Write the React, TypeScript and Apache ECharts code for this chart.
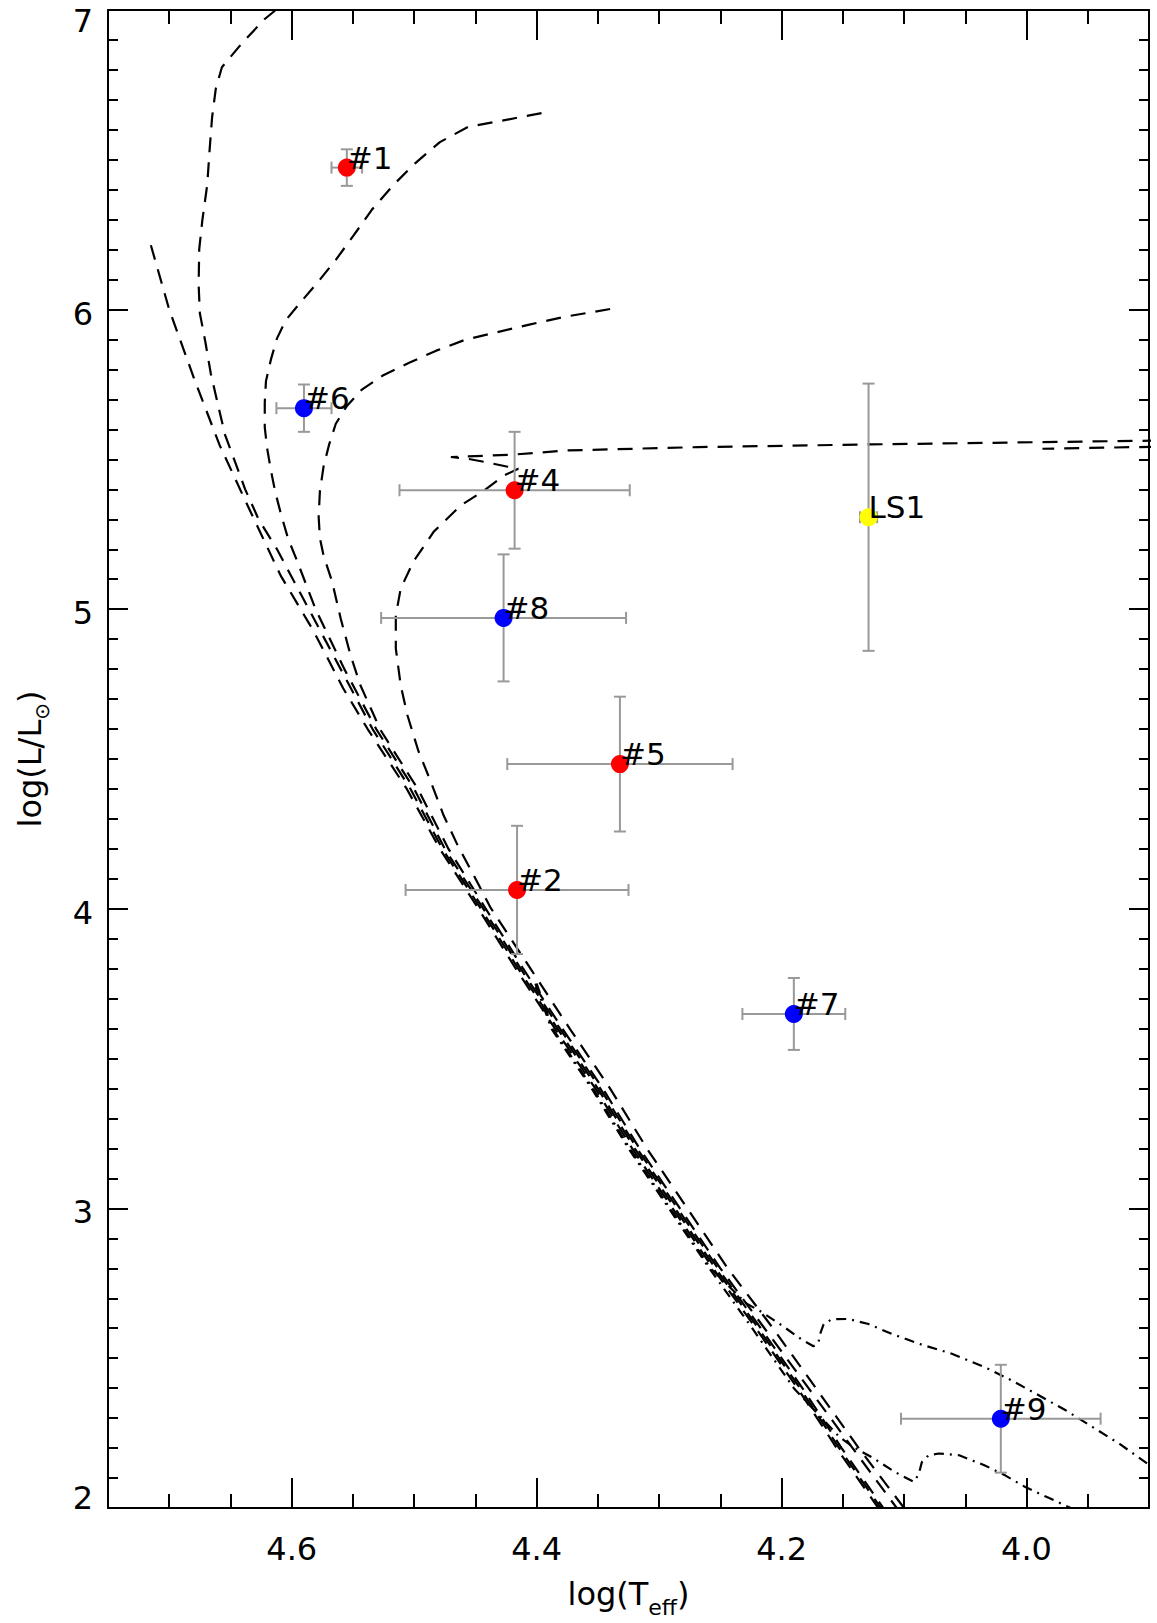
import React, { useEffect, useRef } from "react";
import * as echarts from "echarts";

const FONT = "'DejaVu Sans', sans-serif";

// Axis ranges and ticks
const X_MIN = 3.9;
const X_MAX = 4.75;
const Y_MIN = 2;
const Y_MAX = 7;
const xMajorTicks = [4.0, 4.2, 4.4, 4.6];

// Stars: log(Teff), log(L/Lsun), errors, colours
const starNames = ["#1", "#6", "#4", "#8", "#5", "#2", "#7", "LS1", "#9"];
const starLogT = [4.555, 4.59, 4.418, 4.427, 4.332, 4.416, 4.19, 4.129, 4.021];
const starLogL = [6.474, 5.671, 5.397, 4.971, 4.483, 4.063, 3.649, 5.307, 2.298];
const starErrT = [0.0125, 0.0225, 0.094, 0.1, 0.092, 0.091, 0.042, 0.007, 0.0815];
const starErrL = [0.061, 0.079, 0.195, 0.212, 0.225, 0.214, 0.12, 0.446, 0.18];
const starColors = ["#ff0000", "#0000ff", "#ff0000", "#0000ff", "#ff0000", "#ff0000", "#0000ff", "#ffff00", "#0000ff"];

// ZAMS
const zams = [
  [4.715, 6.215], [4.7, 6.0], [4.679, 5.762], [4.659, 5.549], [4.636, 5.346], [4.609, 5.112],
  [4.582, 4.926], [4.558, 4.736], [4.538, 4.6], [4.506, 4.4], [4.479, 4.2], [4.4475, 4.0],
  [4.417, 3.8], [4.385, 3.6], [4.352, 3.4], [4.322, 3.2], [4.289, 3.0], [4.256, 2.8],
  [4.221, 2.6], [4.187, 2.4], [4.155, 2.2], [4.121, 2.0],
];

// Isochrones
const iso1Myr = [
  [4.613, 7.0], [4.622, 6.97], [4.64, 6.892], [4.657, 6.809], [4.662, 6.737], [4.665, 6.642],
  [4.667, 6.535], [4.669, 6.416], [4.673, 6.297], [4.6755, 6.202], [4.676, 6.083], [4.675, 5.988],
  [4.6705, 5.892], [4.666, 5.785], [4.66, 5.679], [4.6545, 5.583], [4.647, 5.5], [4.638, 5.4],
  [4.627, 5.3], [4.612, 5.2], [4.586, 5.0], [4.56, 4.8], [4.534, 4.6], [4.503, 4.4], [4.477, 4.2],
  [4.4455, 4.0], [4.415, 3.8], [4.383, 3.6], [4.35, 3.4], [4.32, 3.2], [4.287, 3.0], [4.254, 2.8],
  [4.219, 2.6], [4.185, 2.4], [4.153, 2.2], [4.119, 2.0],
];

const iso2Myr = [
  [4.396, 6.656], [4.429, 6.63], [4.456, 6.61], [4.479, 6.559], [4.4995, 6.4875], [4.517, 6.416],
  [4.5346, 6.333], [4.549, 6.25], [4.564, 6.166], [4.578, 6.095], [4.593, 6.023], [4.605, 5.964],
  [4.612, 5.904], [4.617, 5.833], [4.621, 5.762], [4.622, 5.69], [4.622, 5.607], [4.62, 5.5355],
  [4.617, 5.464], [4.6135, 5.3925], [4.609, 5.321], [4.603, 5.236], [4.5955, 5.16], [4.5805, 5.0],
  [4.557, 4.8], [4.531, 4.6], [4.5, 4.4], [4.475, 4.2], [4.4435, 4.0], [4.413, 3.8], [4.381, 3.6],
  [4.348, 3.4], [4.318, 3.2], [4.285, 3.0], [4.252, 2.8], [4.217, 2.6], [4.183, 2.4], [4.151, 2.2],
  [4.117, 2.0],
];

const iso3Myr = [
  [4.34, 6.002], [4.377, 5.976], [4.406, 5.95], [4.435, 5.922], [4.4586, 5.899], [4.482, 5.863],
  [4.505, 5.821], [4.526, 5.779], [4.543, 5.732], [4.555, 5.678], [4.564, 5.619], [4.5696, 5.5475],
  [4.574, 5.476], [4.577, 5.3925], [4.578, 5.309], [4.577, 5.238], [4.574, 5.179], [4.567, 5.092],
  [4.56, 4.969], [4.552, 4.847], [4.544, 4.747], [4.533, 4.647], [4.528, 4.6], [4.497, 4.4],
  [4.472, 4.2], [4.4415, 4.0], [4.411, 3.8], [4.379, 3.6], [4.346, 3.4], [4.316, 3.2], [4.283, 3.0],
  [4.25, 2.8], [4.214, 2.6], [4.178, 2.4], [4.142, 2.2], [4.106, 2.0],
];

const iso5Myr = [
  [4.1, 2.0], [4.137, 2.2], [4.172, 2.4], [4.207, 2.6], [4.244, 2.8], [4.277, 3.0], [4.31, 3.2],
  [4.34, 3.4], [4.373, 3.6], [4.405, 3.8], [4.4375, 4.003], [4.4514, 4.112], [4.4645, 4.212],
  [4.476, 4.312], [4.4866, 4.426], [4.4965, 4.526], [4.5055, 4.646], [4.511, 4.746], [4.515, 4.869],
  [4.515, 4.979], [4.511, 5.069], [4.5006, 5.159], [4.484, 5.259], [4.462, 5.346], [4.443, 5.396],
  [4.427, 5.4455], [4.415, 5.469], [4.4236, 5.4755], [4.443, 5.492], [4.456, 5.502], [4.47, 5.508],
  [4.421, 5.5155], [4.3745, 5.53], [4.268, 5.541], [4.1276, 5.55], [3.898, 5.5625], [3.87, 5.565],
  [3.86, 5.555], [3.87, 5.545], [3.898, 5.542], [3.987, 5.5355],
];

// Pre-main-sequence (dash-dot)
const pmsUpper = [
  [4.4, 3.75], [4.387, 3.6], [4.354, 3.4], [4.324, 3.2], [4.291, 3.0], [4.258, 2.8], [4.2288, 2.683],
  [4.2166, 2.655], [4.2, 2.61], [4.1838, 2.563], [4.174, 2.54], [4.17, 2.55], [4.1686, 2.58],
  [4.1657, 2.613], [4.159, 2.63], [4.1453, 2.631], [4.129, 2.614], [4.11, 2.581], [4.0855, 2.545],
  [4.061, 2.515], [4.034, 2.47], [4.012, 2.4255], [3.9897, 2.3755], [3.968, 2.326], [3.946, 2.27],
  [3.924, 2.214], [3.8976, 2.137],
];

const pmsLower = [
  [4.401, 3.75], [4.388, 3.6], [4.355, 3.4], [4.325, 3.2], [4.292, 3.0], [4.259, 2.8], [4.224, 2.6],
  [4.19, 2.4], [4.1528, 2.237], [4.1413, 2.203], [4.1265, 2.17], [4.1074, 2.12], [4.092, 2.087],
  [4.088, 2.113], [4.0855, 2.153], [4.08, 2.176], [4.0716, 2.182], [4.055, 2.176], [4.034, 2.142],
  [4.0175, 2.109], [4.001, 2.07], [3.9815, 2.033], [3.96, 1.993],
];

// Text annotations (left edge, vertical centre)
const annotationTexts = ["1Myr", "2Myr", "3Myr", "5Myr", "ZAMS", "PMS:1Myrs"];
const annotationLogT = [4.656, 4.569, 4.449, 4.248, 4.7, 4.098];
const annotationLogL = [6.235, 6.087, 5.783, 5.435, 5.039, 2.736];

const DASH = [15, 10];
const DASH_DOT = [10, 6, 2, 6];

function curve(name: string, data: number[][], dash: number[]) {
  return {
    name,
    type: "line",
    data,
    showSymbol: false,
    symbol: "none",
    clip: true,
    z: 2,
    silent: true,
    lineStyle: { color: "#000", width: 2.2, type: dash, opacity: 1 },
  };
}

function xAxisBase(position: string, extra: any) {
  return {
    type: "value",
    position,
    min: X_MIN,
    max: X_MAX,
    inverse: true,
    splitLine: { show: false },
    ...extra,
  };
}

export default function App() {
  const ref = useRef<HTMLDivElement>(null);

  useEffect(() => {
    if (!ref.current) return;
    const chart = echarts.init(ref.current, null, { renderer: "svg" });

    const tickLine = { color: "#000", width: 2 };
    const labelStyle = { color: "#000", fontSize: 32, fontFamily: FONT };

    const errorData = starLogT.map((t, i) => [t, starLogL[i], starErrT[i], starErrL[i]]);
    const starData = starLogT.map((t, i) => ({
      name: starNames[i],
      value: [t, starLogL[i]],
      itemStyle: { color: starColors[i], opacity: 1 },
    }));
    const annData = annotationTexts.map((s, i) => ({
      name: s,
      value: [annotationLogT[i], annotationLogL[i]],
    }));

    const yLabelRich = {
      t: { ...labelStyle, padding: [22, 0, 0, 0] },
      b: { ...labelStyle, padding: [0, 0, 20, 0] },
      m: { ...labelStyle, padding: [8, 0, 0, 0] },
    };

    const option: any = {
      animation: false,
      backgroundColor: "#ffffff",
      grid: { left: 108, right: 8, top: 10, bottom: 112, containLabel: false },
      xAxis: [
        xAxisBase("bottom", {
          interval: 0.05,
          axisLine: { show: true, onZero: false, lineStyle: tickLine },
          axisTick: { show: true, inside: true, length: 14, lineStyle: tickLine },
          axisLabel: { show: false },
          name: "{a|log(T}{s|eff}{a|)}",
          nameLocation: "middle",
          nameGap: 70,
          nameTextStyle: {
            rich: {
              a: { fontSize: 32, fontFamily: FONT, color: "#000", lineHeight: 38, verticalAlign: "top" },
              s: { fontSize: 22, fontFamily: FONT, color: "#000", padding: [18, 0, 0, 0], verticalAlign: "top" },
            },
          },
        }),
        xAxisBase("bottom", {
          axisLine: { show: false },
          axisTick: { show: true, inside: true, length: 30, lineStyle: tickLine, customValues: xMajorTicks },
          axisLabel: {
            show: true,
            customValues: xMajorTicks,
            margin: 25,
            formatter: (v: number) => v.toFixed(1),
            ...labelStyle,
          },
        }),
        xAxisBase("top", {
          interval: 0.05,
          axisLine: { show: true, onZero: false, lineStyle: tickLine },
          axisTick: { show: true, inside: true, length: 14, lineStyle: tickLine },
          axisLabel: { show: false },
        }),
        xAxisBase("top", {
          axisLine: { show: false },
          axisTick: { show: true, inside: true, length: 30, lineStyle: tickLine, customValues: xMajorTicks },
          axisLabel: { show: false },
        }),
      ],
      yAxis: [
        {
          type: "value",
          position: "left",
          min: Y_MIN,
          max: Y_MAX,
          interval: 1,
          splitLine: { show: false },
          axisLine: { show: true, onZero: false, lineStyle: tickLine },
          axisTick: { show: true, inside: true, length: 20, lineStyle: tickLine },
          minorTick: { show: true, splitNumber: 10, length: 10, lineStyle: tickLine },
          axisLabel: {
            show: true,
            margin: 15,
            ...labelStyle,
            formatter: (v: number) => (v === 7 ? `{t|${v}}` : v === 2 ? `{b|${v}}` : `{m|${v}}`),
            rich: yLabelRich,
          },
          name: "{a|log(L/L}{s|⊙}{a|)}",
          nameLocation: "middle",
          nameRotate: 90,
          nameGap: 56,
          nameTextStyle: {
            rich: {
              a: { fontSize: 32, fontFamily: FONT, color: "#000", lineHeight: 38, verticalAlign: "top" },
              s: { fontSize: 20, fontFamily: FONT, color: "#000", padding: [18, 0, 0, 0], verticalAlign: "top" },
            },
          },
        },
        {
          type: "value",
          position: "right",
          min: Y_MIN,
          max: Y_MAX,
          interval: 1,
          splitLine: { show: false },
          axisLine: { show: true, onZero: false, lineStyle: tickLine },
          axisTick: { show: true, inside: true, length: 20, lineStyle: tickLine },
          minorTick: { show: true, splitNumber: 10, length: 10, lineStyle: tickLine },
          axisLabel: { show: false },
        },
      ],
      series: [
        curve("ZAMS", zams, DASH),
        curve("1Myr", iso1Myr, DASH),
        curve("2Myr", iso2Myr, DASH),
        curve("3Myr", iso3Myr, DASH),
        curve("5Myr", iso5Myr, DASH),
        curve("PMS upper", pmsUpper, DASH_DOT),
        curve("PMS lower", pmsLower, DASH_DOT),
        {
          name: "errors",
          type: "custom",
          z: 3,
          silent: true,
          data: errorData,
          encode: { x: 0, y: 1 },
          renderItem: (_params: any, api: any) => {
            const x = api.value(0);
            const y = api.value(1);
            const ex = api.value(2);
            const ey = api.value(3);
            const c = api.coord([x, y]);
            const xa = api.coord([x + ex, y])[0];
            const xb = api.coord([x - ex, y])[0];
            const ya = api.coord([x, y + ey])[1];
            const yb = api.coord([x, y - ey])[1];
            const cap = 6;
            const style = { stroke: "#999999", lineWidth: 2 };
            return {
              type: "group",
              children: [
                { type: "line", shape: { x1: xa, y1: c[1], x2: xb, y2: c[1] }, style },
                { type: "line", shape: { x1: xa, y1: c[1] - cap, x2: xa, y2: c[1] + cap }, style },
                { type: "line", shape: { x1: xb, y1: c[1] - cap, x2: xb, y2: c[1] + cap }, style },
                { type: "line", shape: { x1: c[0], y1: ya, x2: c[0], y2: yb }, style },
                { type: "line", shape: { x1: c[0] - cap, y1: ya, x2: c[0] + cap, y2: ya }, style },
                { type: "line", shape: { x1: c[0] - cap, y1: yb, x2: c[0] + cap, y2: yb }, style },
              ],
            };
          },
        },
        {
          name: "stars",
          type: "scatter",
          z: 4,
          silent: true,
          symbol: "circle",
          symbolSize: 18,
          itemStyle: { opacity: 1 },
          data: starData,
          label: {
            show: true,
            formatter: "{b}",
            position: "right",
            distance: -9,
            offset: [0, -10],
            color: "#000",
            fontSize: 31,
            fontFamily: FONT,
          },
        },
        {
          name: "annotations",
          type: "scatter",
          z: 5,
          silent: true,
          symbolSize: 0,
          itemStyle: { opacity: 0 },
          data: annData,
          label: {
            show: true,
            formatter: "{b}",
            position: "right",
            distance: 0,
            color: "#000",
            fontSize: 32,
            fontFamily: FONT,
          },
        },
      ],
    };

    chart.setOption(option);
    return () => {
      chart.dispose();
    };
  }, []);

  return (
    <div
      ref={ref}
      style={{ position: "absolute", left: 0, top: 0, width: 1157, height: 1623, background: "#fff" }}
    />
  );
}
